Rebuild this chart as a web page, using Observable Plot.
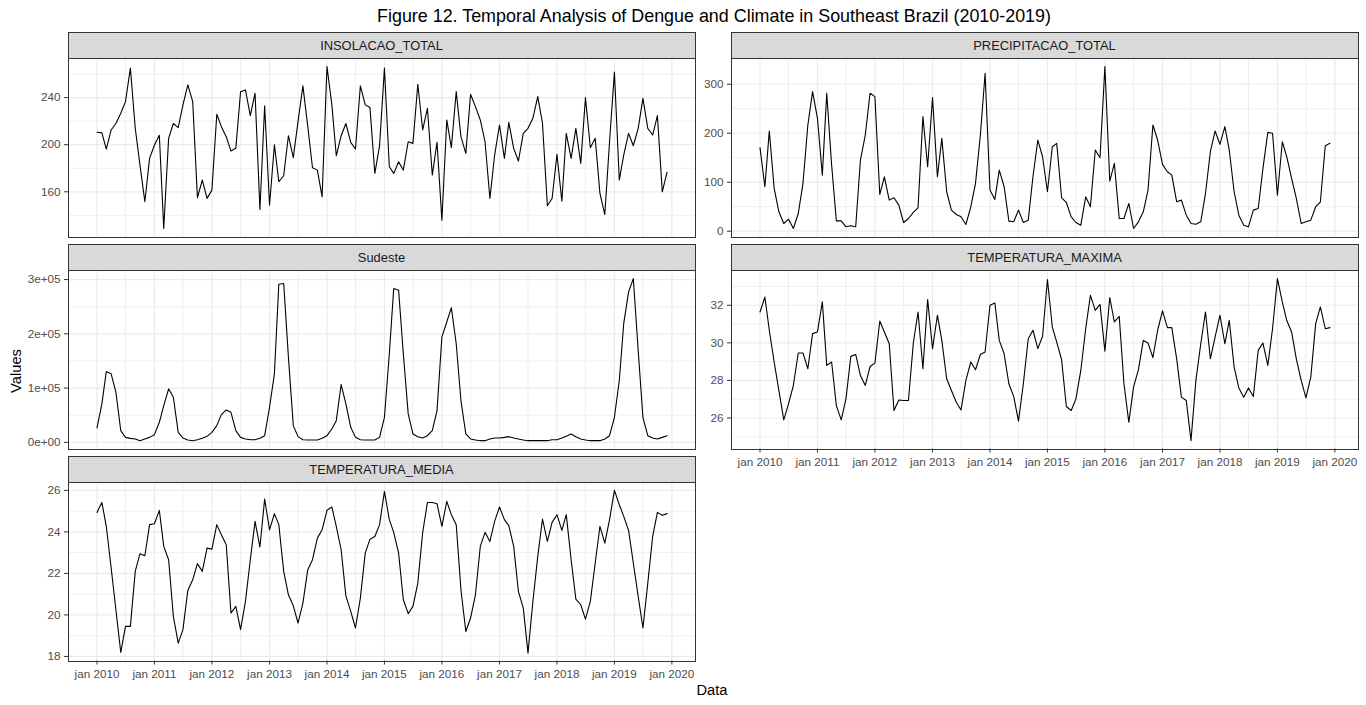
<!DOCTYPE html>
<html>
<head>
<meta charset="utf-8">
<script src="https://cdn.jsdelivr.net/npm/d3@7"></script>
<script src="https://cdn.jsdelivr.net/npm/@observablehq/plot@0.6"></script>
<style>
  html, body { margin: 0; padding: 0; background: #fff; }
  #wrap { position: relative; width: 1366px; height: 705px; overflow: hidden; font-family: "Liberation Sans", Arial, sans-serif; }
  #wrap > svg.overlay { position: absolute; left: 0; top: 0; }
  .panel { position: absolute; }
</style>
</head>
<body>
<div id="wrap"></div>
<script>
// ---- data (monthly, Jan 2010 .. Dec 2019) ----
const startMonth = "2010-01";
const insolacaoTotal = [
  210.5, 210, 196.3, 212.5, 218, 226.7, 236.6, 265, 214, 182.7, 151.5, 188.4,
  199.7, 208, 128.8, 205.4, 218, 214.5, 233.8, 250.8, 236.6, 155, 170, 154.4,
  161.4, 225.8, 215.3, 206.8, 194.6, 196.9, 245, 246.5, 224.7, 243.7, 145, 233,
  148.6, 200, 168.5, 173.6, 207.6, 189, 219.6, 250, 215.3, 180.4, 178.4, 155.7,
  266.4, 233.8, 190.6, 207.6, 218, 202, 196.3, 250, 233.8, 231.5, 175.6, 199,
  265, 181.3, 175.6, 185.5, 178.4, 202.5, 201.1, 251.3, 212.5, 230.9, 174.2, 202,
  135.9, 221, 197.4, 245.1, 206.8, 192.6, 242.8, 232.3, 221, 202.5, 154.3, 191.2,
  216.7, 188.4, 219, 196.9, 186.1, 209.6, 213.9, 222.4, 240.9, 218.2, 148.1, 154.3,
  191.8, 152, 209.6, 188.4, 213.9, 184.1, 240, 197.4, 205.4, 158.6, 140.7, 202.5,
  261.6, 170, 191.2, 209.6, 199.1, 213.9, 239.4, 213.9, 208.2, 224.7, 160, 176.5
];
const precipitacaoTotal = [
  170.5, 90.7, 204.5, 87.3, 39.5, 15.7, 24.5, 5.5, 36, 97.5, 216.8, 285,
  230.5, 114.5, 281.6, 135, 21.1, 21.1, 8.9, 10.9, 8.9, 145.2, 196.4, 281.6,
  274.8, 75, 111.1, 63.4, 68.2, 53.2, 17.7, 25.9, 38.2, 47.7, 233.9, 131.6,
  272.7, 111.1, 189.5, 80.5, 43, 34.1, 29.3, 13.6, 49.8, 97.5, 196.4, 322.5,
  83.9, 64.8, 124.8, 90.7, 20.5, 19.1, 43, 17.7, 22.5, 111.1, 186.1, 152,
  80.5, 172.5, 179.3, 68.2, 58.6, 29.3, 17.7, 12.3, 70.2, 49.8, 165.7, 150,
  336.1, 102.3, 138.4, 25.9, 25.9, 56.6, 5.5, 19.1, 39.5, 83.9, 216.8, 186.1,
  136.4, 121.4, 114.5, 60, 63.4, 32.7, 15.7, 14.3, 19.1, 77, 162.3, 204.5,
  177.3, 213.4, 165.7, 80.5, 32.7, 12.3, 8.9, 43, 46.4, 128.2, 201.8, 199.8,
  73.6, 182.7, 152, 107.7, 66.8, 15.7, 19.1, 22.5, 49.8, 60, 174.5, 179.3
];
const sudeste = [
  26500, 70800, 130600, 126300, 92400, 21600, 9200, 7400, 6200, 3100, 6200, 9200,
  14200, 37000, 67800, 98600, 83200, 18500, 8000, 4300, 3100, 4900, 7400, 11100,
  18500, 30800, 51100, 59800, 55400, 21600, 9200, 6200, 4900, 4900, 7400, 12300,
  64700, 126300, 291400, 292600, 157100, 30800, 10500, 4900, 4300, 4300, 4300, 7400,
  12300, 24600, 40000, 106600, 70800, 27700, 9200, 4900, 4300, 4300, 4300, 9200,
  46200, 163200, 283400, 280300, 163200, 52400, 15400, 10500, 8000, 12300, 21600, 58500,
  194000, 221800, 248200, 181700, 77000, 15400, 6200, 4300, 3100, 3100, 6200, 8000,
  8000, 9200, 10500, 8000, 6200, 4300, 3100, 3100, 3100, 3100, 3100, 4900,
  4900, 8000, 11100, 15400, 10500, 6200, 4300, 3100, 3100, 3100, 6200, 12300,
  46200, 114000, 218700, 277200, 301800, 169400, 46200, 12300, 8000, 6200, 9200, 12300
];
const temperaturaMaxima = [
  31.64, 32.44, 30.67, 28.98, 27.46, 25.9, 26.75, 27.73, 29.46, 29.46, 28.62, 30.49,
  30.58, 32.18, 28.8, 28.98, 26.66, 25.9, 27.02, 29.28, 29.38, 28.26, 27.73, 28.74,
  28.92, 31.16, 30.58, 29.95, 26.4, 26.96, 26.93, 26.93, 29.99, 31.64, 28.62, 32.3,
  29.69, 31.47, 30.13, 28.09, 27.46, 26.84, 26.43, 28, 28.98, 28.57, 29.38, 29.51,
  32, 32.12, 30.13, 29.42, 27.82, 27.14, 25.83, 27.82, 30.22, 30.67, 29.69, 30.35,
  33.37, 30.84, 30.04, 29.1, 26.61, 26.4, 27.02, 28.53, 30.75, 32.53, 31.73, 32.05,
  29.56, 32.41, 31.11, 31.41, 27.82, 25.77, 27.64, 28.57, 30.13, 29.99, 29.21, 30.67,
  31.7, 30.81, 30.81, 29.15, 27.11, 26.93, 24.79, 28, 29.95, 31.64, 29.15, 30.31,
  31.47, 29.95, 31.2, 28.71, 27.6, 27.11, 27.6, 27.14, 29.6, 29.99, 28.8, 30.75,
  33.42, 32.18, 31.2, 30.58, 29.15, 28, 27.07, 28.17, 31.02, 31.91, 30.75, 30.81
];
const temperaturaMedia = [
  24.94, 25.42, 24.27, 22.26, 20.25, 18.19, 19.45, 19.45, 22.1, 22.95, 22.85, 24.35,
  24.39, 25.04, 23.3, 22.66, 19.93, 18.64, 19.29, 21.18, 21.69, 22.47, 22.1, 23.22,
  23.17, 24.35, 23.86, 23.38, 20.09, 20.41, 19.29, 20.65, 22.66, 24.51, 23.27, 25.58,
  24.1, 24.88, 24.35, 22.1, 20.97, 20.44, 19.61, 20.57, 22.18, 22.66, 23.7, 24.1,
  25.04, 25.2, 24.27, 23.14, 20.92, 20.17, 19.37, 20.81, 22.98, 23.65, 23.78, 24.35,
  25.95, 24.59, 23.98, 22.98, 20.73, 20.06, 20.41, 21.53, 23.98, 25.42, 25.42, 25.36,
  24.27, 25.47, 24.83, 24.35, 21.21, 19.2, 19.85, 20.97, 23.3, 23.98, 23.54, 24.51,
  25.2, 24.59, 24.3, 23.3, 21.13, 20.33, 18.16, 20.65, 22.82, 24.62, 23.54, 24.46,
  24.83, 24.07, 24.83, 22.66, 20.76, 20.49, 19.8, 20.65, 22.5, 24.27, 23.46, 24.59,
  26, 25.31, 24.75, 24.07, 22.5, 20.89, 19.37, 21.53, 23.78, 24.94, 24.8, 24.88
];

// tick labels / breaks
const xTickYears = [2010, 2011, 2012, 2013, 2014, 2015, 2016, 2017, 2018, 2019, 2020];
const insolMajor = [160, 200, 240], insolMinor = [140, 180, 220, 260];
const precMajor = [0, 100, 200, 300], precMinor = [50, 150, 250];
const sudMajor = [0, 100000, 200000, 300000], sudMinor = [50000, 150000, 250000];
const tmaxMajor = [26, 28, 30, 32], tmaxMinor = [25, 27, 29, 31, 33];
const tmedMajor = [18, 20, 22, 24, 26], tmedMinor = [19, 21, 23, 25];

const titleText = "Figure 12. Temporal Analysis of Dengue and Climate in Southeast Brazil (2010-2019)";
const xTitle = "Data", yTitle = "Values";

// ---- build ----
const [sy, sm] = startMonth.split("-").map(Number);
const t0 = new Date(Date.UTC(sy, sm - 1, 1));
const months = d3.utcMonth.range(t0, d3.utcMonth.offset(t0, 120));
const tLast = months[months.length - 1];
const span = tLast - t0;
const xDomain = [new Date(+t0 - 0.05 * span), new Date(+tLast + 0.05 * span)];
const xMajor = xTickYears.map(y => new Date(Date.UTC(y, 0, 1)));
const xMinor = xTickYears.slice(0, -1).map(y => new Date(Date.UTC(y, 6, 1)));

function expand(vals) {
  const lo = d3.min(vals), hi = d3.max(vals), r = hi - lo;
  return [lo - 0.05 * r, hi + 0.05 * r];
}
const sci = d => {
  if (d === 0) return "0e+00";
  const e = Math.floor(Math.log10(Math.abs(d)));
  const m = Math.round(d / Math.pow(10, e));
  return m + "e+" + String(e).padStart(2, "0");
};

const PW = 627, PH = 178.5;
const colX = [68, 731];
const rowTop = [58, 270, 482];
const stripH = 25.5;
const FONT = "'Liberation Sans', Arial, Helvetica, sans-serif";

const panels = [
  {name: "INSOLACAO_TOTAL", values: insolacaoTotal, major: insolMajor, minor: insolMinor, col: 0, row: 0, yDomain: [121.6, 273.2]},
  {name: "PRECIPITACAO_TOTAL", values: precipitacaoTotal, major: precMajor, minor: precMinor, col: 1, row: 0, yDomain: [-11.9, 352.6]},
  {name: "Sudeste", values: sudeste, major: sudMajor, minor: sudMinor, col: 0, row: 1, fmt: sci, yDomain: [-12250, 316700]},
  {name: "TEMPERATURA_MAXIMA", values: temperaturaMaxima, major: tmaxMajor, minor: tmaxMinor, col: 1, row: 1, xAxis: true, yDomain: [24.35, 33.85]},
  {name: "TEMPERATURA_MEDIA", values: temperaturaMedia, major: tmedMajor, minor: tmedMinor, col: 0, row: 2, xAxis: true, yDomain: [17.78, 26.38]}
];

const wrap = document.getElementById("wrap");
const NS = "http://www.w3.org/2000/svg";
const ov = document.createElementNS(NS, "svg");
ov.setAttribute("class", "overlay");
ov.setAttribute("width", 1366);
ov.setAttribute("height", 705);
ov.style.fontFamily = FONT;
wrap.appendChild(ov);
function svgEl(tag, attrs, text) {
  const e = document.createElementNS(NS, tag);
  for (const k in attrs) e.setAttribute(k, attrs[k]);
  if (text != null) e.textContent = text;
  ov.appendChild(e);
  return e;
}

// title & axis titles
svgEl("text", {x: 714, y: 21.7, "text-anchor": "middle", "font-size": "17.9px", fill: "#000"}, titleText);
svgEl("text", {x: 712, y: 695, "text-anchor": "middle", "font-size": "14.7px", fill: "#000"}, xTitle);
svgEl("text", {x: 0, y: 0, "text-anchor": "middle", "font-size": "14.7px", fill: "#000",
  transform: "translate(20.5,371) rotate(-90)"}, yTitle);

for (const p of panels) {
  const x0 = colX[p.col], top = rowTop[p.row];
  // strip
  svgEl("rect", {x: x0, y: top - stripH, width: PW, height: stripH, fill: "#D9D9D9", stroke: "#333333", "stroke-width": 1, "shape-rendering": "crispEdges"});
  svgEl("text", {x: x0 + PW / 2, y: top - stripH / 2 + 4.8, "text-anchor": "middle", "font-size": "12.9px", fill: "#1A1A1A"}, p.name);

  const data = p.values.map((v, i) => ({date: months[i], value: v}));
  const mL = 45, mR = 3, mT = 3, mB = p.xAxis ? 28 : 3;
  const chart = Plot.plot({
    width: mL + PW + mR,
    height: mT + PH + mB,
    marginLeft: mL, marginRight: mR, marginTop: mT, marginBottom: mB,
    style: {background: "transparent", overflow: "visible", fontFamily: FONT, fontSize: "11.7px", maxWidth: "none"},
    x: {type: "utc", domain: xDomain, axis: null},
    y: {domain: p.yDomain || expand(p.values), axis: null},
    marks: [
      Plot.ruleY(p.minor, {stroke: "#EBEBEB", strokeWidth: 0.8}),
      Plot.ruleY(p.major, {stroke: "#EBEBEB", strokeWidth: 1.2}),
      Plot.ruleX(xMinor, {stroke: "#EBEBEB", strokeWidth: 0.8}),
      Plot.ruleX(xMajor, {stroke: "#EBEBEB", strokeWidth: 1.2}),
      Plot.line(data, {x: "date", y: "value", stroke: "#000", strokeWidth: 1.1}),
      Plot.axisY(p.major, {tickSize: 4, tickPadding: 4, tickFormat: p.fmt || (d => String(d)), stroke: "#333333", fill: "#4D4D4D", label: null}),
      p.xAxis ? Plot.axisX(xMajor, {tickSize: 4, tickPadding: 5, tickFormat: d => "jan " + d.getUTCFullYear(), stroke: "#333333", fill: "#4D4D4D", label: null}) : null,
      Plot.frame({stroke: "#333333", strokeWidth: 1, shapeRendering: "crispEdges"})
    ]
  });
  chart.classList.add("panel");
  chart.style.left = (x0 - mL) + "px";
  chart.style.top = (top - mT) + "px";
  wrap.appendChild(chart);
}
</script>
</body>
</html>
